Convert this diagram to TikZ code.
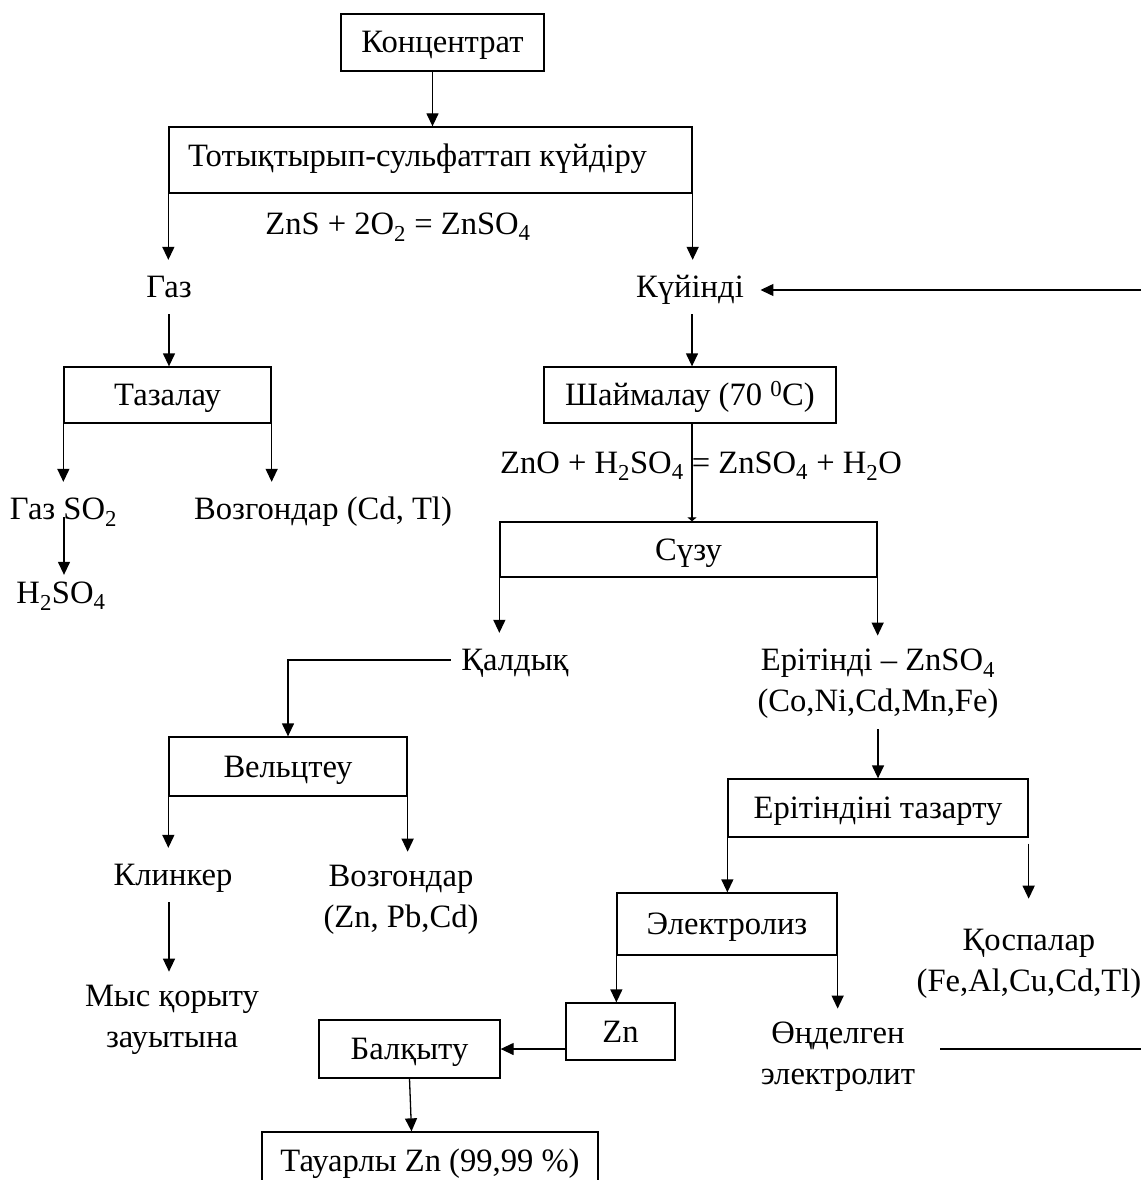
\documentclass[tikz,border=0pt]{standalone}
\usepackage{fontspec}
\setmainfont{Liberation Serif}
\usetikzlibrary{arrows.meta,calc}
\begin{document}
\begin{tikzpicture}[x=1pt,y=-1pt,
  font=\fontsize{32.6}{41}\selectfont,
  line width=1.3pt,
  arr/.style={-{Triangle[width=12pt,length=13pt]}},
  box/.style={draw, inner sep=0pt, text height=27pt, text depth=6pt},
  lbl/.style={inner sep=10pt, text height=27pt, text depth=6pt},
  mlbl/.style={inner sep=10pt, align=center}]
\clip (0,0) rectangle (1141,1180);
% boxes and labels
\node[box, minimum width=203pt, minimum height=57pt] (konc) at (442.5,42.5) {Концентрат};
\node[box, minimum width=523pt, minimum height=66pt] (roast) at (430.5,160) {\hspace*{-26pt}\raisebox{4pt}{Тотықтырып-сульфаттап күйдіру}};
\node[lbl] (eq1) at (398,224) {ZnS + 2O\textsubscript{2} = ZnSO\textsubscript{4}};
\node[lbl] (gas) at (169,287) {Газ};
\node[lbl] (calc) at (690,287) {Күйінді};
\node[box, minimum width=207pt, minimum height=56pt] (taz) at (167.5,395) {Тазалау};
\node[box, minimum width=292pt, minimum height=56pt] (leach) at (690,395) {Шаймалау (70 \textsuperscript{0}C)};
\node[lbl] (so2) at (63.5,509) {Газ SO\textsubscript{2}};
\node[lbl] (subl1) at (323,509) {Возгондар (Cd, Tl)};
\node[lbl] (h2so4) at (61,593) {H\textsubscript{2}SO\textsubscript{4}};
\node[lbl] (eq2) at (701,463) {ZnO + H\textsubscript{2}SO\textsubscript{4} = ZnSO\textsubscript{4} + H\textsubscript{2}O};
\node[box, minimum width=377pt, minimum height=55pt] (filt) at (688.5,549.5) {Сүзу};
\node[lbl] (resid) at (515,660) {Қалдық};
\node[mlbl] (sol) at (878,684) {Ерітінді – ZnSO\textsubscript{4}\\(Co,Ni,Cd,Mn,Fe)};
\node[box, minimum width=238pt, minimum height=59pt] (welz) at (288,766.5) {Вельцтеу};
\node[box, minimum width=300pt, minimum height=58pt] (purif) at (878,808) {Ерітіндіні тазарту};
\node[lbl] (clink) at (173,875) {Клинкер};
\node[mlbl] (subl2) at (401,900) {Возгондар\\(Zn, Pb,Cd)};
\node[mlbl] (copper) at (172,1020) {Мыс қорыту\\зауытына};
\node[box, minimum width=220pt, minimum height=62pt] (elec) at (727,924) {Электролиз};
\node[mlbl] (impur) at (1029,964) {Қоспалар\\(Fe,Al,Cu,Cd,Tl)};
\node[box, minimum width=109pt, minimum height=57pt] (zn) at (620.5,1031.5) {Zn};
\node[mlbl] (spent) at (838,1057) {Өңделген\\электролит};
\node[box, minimum width=181pt, minimum height=58pt] (melt) at (409.5,1049) {Балқыту};
\node[box, minimum width=336pt, minimum height=57pt] (prod) at (430,1160.5) {Тауарлы Zn (99,99 \%)};
\coordinate (ret1) at (1141,290);
\coordinate (ret2) at (940,1049);
\coordinate (ret3) at (1141,1049);
% connectors
\draw[arr] ([xshift=-10pt]konc.south) -- ([xshift=-10pt]konc.south |- roast.north);
\draw[arr] (roast.south west) -- (roast.south west |- gas.north);
\draw[arr] (roast.south east) -- (roast.south east |- calc.north);
\draw[arr] (gas.south) -- (gas.south |- taz.north);
\draw[arr] ([xshift=2pt]calc.south) -- ([xshift=2pt]calc.south |- leach.north);
\draw[arr] (ret1) -- ([xshift=6pt]calc.east |- ret1);
\draw[arr] (taz.south west) -- (taz.south west |- so2.north);
\draw[arr] (taz.south east) -- (taz.south east |- subl1.north);
\draw[arr] ([xshift=0.5pt,yshift=-8pt]so2.center) -- ($(h2so4.north -| so2.center)+(0.5,9)$);
\draw[-{Triangle[width=9pt,length=4pt]}] ([xshift=2pt]leach.south) -- ([xshift=2pt]leach.south |- filt.north);
\draw[arr] (filt.south west) -- (filt.south west |- resid.north);
\draw[arr] (filt.south east) -- ($(filt.south east |- sol.north)+(0,-3)$);
\draw[arr] (resid.west) -| (welz.north);
\draw[arr] (sol.south) -- (sol.south |- purif.north);
\draw[arr] (welz.south west) -- (welz.south west |- clink.north);
\draw[arr] (welz.south east) -- ($(welz.south east |- subl2.north)+(0,-3)$);
\draw[arr] ([xshift=-4pt]clink.south) -- ($([xshift=-4pt]clink.south |- copper.north)+(0,-3)$);
\draw[arr] (purif.south west) -- (purif.south west |- elec.north);
\draw[arr] ($(purif.south east)+(0,6)$) -- ($(purif.south east |- impur.north)+(0,-20)$);
\draw[arr] (elec.south west) -- (elec.south west |- zn.north);
\draw[arr] (elec.south east) -- ($(elec.south east |- spent.north)+(0,-3)$);
\draw[arr] (zn.west |- melt.east) -- (melt.east);
\draw (ret2) -- (ret3);
\draw[arr] (melt.south) -- ([xshift=2pt]melt.south |- prod.north);
\end{tikzpicture}
\end{document}
